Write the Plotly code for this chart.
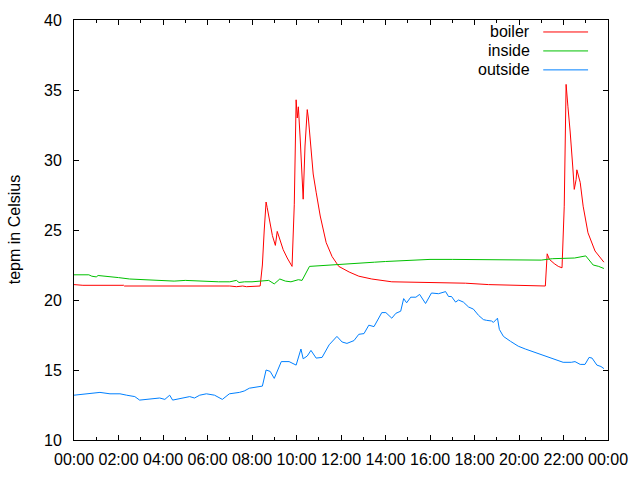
import plotly.graph_objects as go

DAY = "2024-01-01 "
END = "2024-01-02 00:00"

boiler_t = ["00:00", "00:24", "02:14", "02:16", "07:00", "07:18", "07:35", "07:45", "08:22", "08:28", "08:33",
            "08:38", "08:41", "08:47", "08:55", "09:03", "09:08", "09:13", "09:24", "09:35", "09:48",
            "09:54", "09:59", "10:02", "10:05", "10:10", "10:15", "10:18", "10:23", "10:29", "10:32",
            "10:37", "10:45", "10:53", "11:04", "11:20", "11:36", "11:54", "12:22", "12:48", "13:23",
            "14:17", "16:23", "17:36", "18:38", "19:37", "20:52", "21:11", "21:16", "21:22", "21:35",
            "21:46", "21:56", "22:02", "22:07", "22:10", "22:12", "22:18", "22:21", "22:25", "22:29",
            "22:34", "22:36", "22:45", "22:53", "23:06", "23:25", "23:49"]
boiler_v = [21.1, 21.05, 21.05, 21.0, 21.0, 20.95, 21.0, 20.95, 21.0, 22.5, 25.0,
            27.0, 26.6, 25.6, 24.6, 23.9, 24.9, 24.5, 23.6, 23.0, 22.4,
            26.8, 34.3, 33.0, 33.8, 31.5, 29.0, 27.2, 31.0, 33.6, 33.0,
            31.5, 29.0, 27.7, 26.0, 24.1, 23.1, 22.4, 22.0, 21.7, 21.5,
            21.3, 21.25, 21.2, 21.1, 21.05, 21.0, 21.0, 23.3, 22.9, 22.6,
            22.4, 22.3, 26.7, 35.4, 34.0, 33.8, 32.0, 30.6, 29.5, 27.9,
            28.6, 29.3, 28.4, 26.7, 24.8, 23.5, 22.7]

inside_t = ["00:00", "00:40", "00:48", "01:00", "01:05", "01:30", "02:00", "02:30", "03:00", "03:30",
            "04:00", "04:30", "05:00", "05:30", "06:00", "06:30", "07:00", "07:18", "07:25", "07:40",
            "08:00", "08:30", "08:45", "09:00", "09:15", "09:30", "09:45", "10:05", "10:15", "10:35",
            "11:00", "11:30", "12:00", "12:30", "13:00", "13:30", "14:00", "14:30", "15:00", "16:00",
            "17:00", "18:00", "19:00", "19:30", "20:00", "21:00", "21:30", "22:00", "22:30", "23:00",
            "23:10", "23:20", "23:35", "23:49"]
inside_v = [21.8, 21.8, 21.7, 21.65, 21.75, 21.7, 21.6, 21.5, 21.45, 21.4,
            21.4, 21.35, 21.4, 21.35, 21.35, 21.3, 21.3, 21.4, 21.25, 21.3,
            21.3, 21.35, 21.4, 21.15, 21.5, 21.35, 21.3, 21.45, 21.4, 22.4,
            22.45, 22.5, 22.55, 22.6, 22.65, 22.7, 22.75, 22.8, 22.85, 22.9,
            22.9, 22.9, 22.9, 22.85, 22.9, 22.85, 22.95, 22.95, 23.0, 23.15,
            22.8, 22.5, 22.4, 22.25]

outside_t = ["00:00", "00:16", "00:43", "01:10", "01:37", "02:04", "02:22", "02:44", "02:57", "03:24",
             "03:51", "04:05", "04:18", "04:26", "04:45", "05:12", "05:25", "05:39", "05:57", "06:19",
             "06:40", "06:59", "07:26", "07:39", "07:53", "08:28", "08:38", "08:49", "09:00", "09:19",
             "09:40", "09:59", "10:12", "10:18", "10:29", "10:39", "10:53", "11:09", "11:28", "11:49",
             "12:03", "12:16", "12:35", "12:48", "13:02", "13:15", "13:29", "13:37", "13:50", "14:01",
             "14:17", "14:28", "14:41", "14:49", "14:57", "15:08", "15:22", "15:32", "15:48", "16:04",
             "16:23", "16:42", "16:50", "16:58", "17:09", "17:17", "17:30", "17:44", "17:57", "18:11",
             "18:24", "18:32", "18:46", "18:51", "19:02", "19:07", "19:18", "19:37", "19:58", "20:17",
             "20:33", "20:52", "21:11", "21:27", "21:46", "21:59", "22:21", "22:31", "22:45", "22:58",
             "23:09", "23:17", "23:30", "23:41", "23:49"]
outside_v = [13.2, 13.25, 13.3, 13.4, 13.3, 13.3, 13.2, 13.1, 12.85, 12.9,
             13.0, 12.9, 13.2, 12.85, 12.95, 13.1, 13.0, 13.2, 13.3, 13.2,
             12.9, 13.3, 13.4, 13.5, 13.7, 13.85, 15.0, 14.9, 14.4, 15.6,
             15.6, 15.35, 16.5, 15.8, 16.0, 16.4, 15.85, 15.9, 16.8, 17.4,
             17.0, 16.9, 17.1, 17.55, 17.6, 18.2, 18.1, 18.5, 19.1, 19.1,
             18.7, 19.05, 19.2, 20.1, 19.8, 20.2, 20.2, 20.4, 19.75, 20.5,
             20.45, 20.6, 20.25, 20.25, 19.85, 20.0, 19.85, 19.5, 19.35, 18.9,
             18.6, 18.55, 18.5, 18.4, 18.7, 17.9, 17.4, 17.05, 16.7, 16.5,
             16.35, 16.15, 16.0, 15.85, 15.65, 15.55, 15.55, 15.6, 15.4, 15.4,
             15.9, 15.85, 15.35, 15.25, 15.1]

series = [("boiler", boiler_t, boiler_v, "#ff0000"),
          ("inside", inside_t, inside_v, "#00c000"),
          ("outside", outside_t, outside_v, "#0080ff")]

x_ticks = ["00:00", "02:00", "04:00", "06:00", "08:00", "10:00", "12:00",
           "14:00", "16:00", "18:00", "20:00", "22:00", "00:00"]
y_ticks = [10, 15, 20, 25, 30, 35, 40]

FONT = "Liberation Sans, Arial, sans-serif"
FS = 16

fig = go.Figure()
for name, t, v, c in series:
    fig.add_trace(go.Scatter(x=[DAY + s for s in t], y=v, mode="lines", name=name,
                             line=dict(color=c, width=1), showlegend=False))

# gnuplot-like legend: label on the left, line sample on the right
for i, (name, t, v, c) in enumerate(series):
    yp = 1 - (12 + 19 * i) / 421
    fig.add_annotation(xref="paper", yref="paper", x=(534 - 74) / 536, y=yp, text=name,
                       showarrow=False, xanchor="right", yanchor="middle",
                       font=dict(family=FONT, size=FS, color="black"))
    fig.add_shape(type="line", xref="paper", yref="paper",
                  x0=(545 - 74) / 536, x1=(590 - 74) / 536, y0=yp, y1=yp,
                  line=dict(color=c, width=1))

fig.add_annotation(xref="paper", yref="paper", x=(14 - 74) / 536, y=0.5,
                   text="tepm in Celsius", textangle=-90, showarrow=False,
                   xanchor="center", yanchor="middle",
                   font=dict(family=FONT, size=FS, color="black"))

tickvals = [DAY + "00:00"] + [DAY + s for s in x_ticks[1:-1]] + [END]
fig.update_layout(
    width=640, height=480,
    margin=dict(l=74, r=30, t=20, b=39),
    paper_bgcolor="white", plot_bgcolor="white",
    font=dict(family=FONT, size=FS, color="black"),
    xaxis=dict(range=[DAY + "00:00", END], tickvals=tickvals, ticktext=x_ticks,
               showgrid=False, zeroline=False, showline=True, linecolor="black", linewidth=1,
               mirror="allticks", ticks="inside", ticklen=5, tickcolor="black", tickwidth=1,
               minor=dict(dtick=3600000, ticks="inside", ticklen=3, tickcolor="black", showgrid=False),
               ticklabelstandoff=5),
    yaxis=dict(range=[10, 40], tickvals=y_ticks, showgrid=False, zeroline=False,
               showline=True, linecolor="black", linewidth=1, mirror="allticks",
               ticks="inside", ticklen=5, tickcolor="black", tickwidth=1,
               ticklabelstandoff=8),
)

fig.write_html("out.html")
